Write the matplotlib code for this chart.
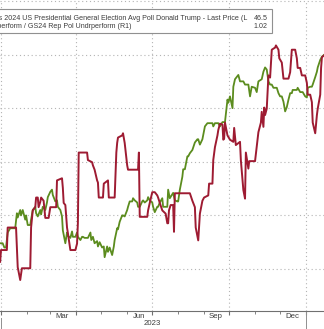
import matplotlib
matplotlib.use("Agg")
import matplotlib.pyplot as plt
import matplotlib.dates as mdates
import pandas as pd

START = pd.Timestamp("2023-01-01")

# Trump general election poll average (left axis), day offsets from Jan 1 2023
poll_days = [-1, 2, 4, 6, 8, 11, 17, 19, 20, 23, 24, 26, 29, 30, 32, 35, 36, 38, 41, 42,
             44, 47, 48, 50, 53, 55, 56, 59, 61, 62, 65, 67, 68, 71, 73, 74, 77, 79, 80, 83,
             85, 86, 89, 91, 92, 95, 97, 98, 100, 104, 107, 108, 110, 112, 115, 116, 118, 121, 123, 124,
             127, 128, 130, 133, 135, 136, 139, 140, 142, 145, 146, 148, 151, 152, 154, 157, 158, 160, 163, 164,
             166, 169, 170, 172, 175, 176, 178, 181, 182, 184, 187, 188, 190, 193, 194, 196, 199, 200, 202, 206,
             208, 211, 212, 214, 217, 218, 220, 223, 224, 226, 229, 232, 235, 236, 238, 241, 244, 247, 250, 253,
             254, 256, 260, 262, 265, 268, 271, 272, 274, 277, 278, 280, 282, 284, 286, 290, 292, 296, 298, 300,
             304, 306, 308, 312, 314, 316, 318, 320, 322, 324, 326, 330, 332, 334, 336, 338, 340, 342, 344, 346,
             348, 349, 354, 355, 358, 361, 364, 366, 367, 370, 372, 373, 376, 378, 379, 382, 384, 387]
poll_vals = [44.74, 44.74, 44.70, 44.70, 44.84, 44.88, 44.88, 45.02, 44.98, 45.05, 45.00, 45.05, 44.96, 45.00, 44.91, 44.91, 44.96, 45.05, 45.08, 45.02,
             44.99, 45.05, 45.01, 45.08, 45.05, 45.12, 45.17, 45.22, 45.24, 45.19, 45.13, 45.14, 45.08, 45.05, 44.99, 44.86, 44.74, 44.84, 44.81, 44.79,
             44.85, 44.80, 44.80, 44.84, 44.80, 44.77, 44.80, 44.80, 44.79, 44.79, 44.84, 44.77, 44.80, 44.74, 44.76, 44.71, 44.75, 44.70, 44.71, 44.61,
             44.71, 44.66, 44.70, 44.63, 44.71, 44.77, 44.88, 44.87, 44.94, 45.00, 45.00, 44.99, 45.05, 45.08, 45.13, 45.13, 45.16, 45.14, 45.12, 45.08,
             45.08, 45.13, 45.14, 45.12, 45.14, 45.17, 45.14, 45.12, 45.08, 45.03, 45.08, 45.08, 45.12, 45.16, 45.08, 45.08, 45.08, 45.24, 45.16, 45.21,
             45.14, 45.13, 45.13, 45.24, 45.36, 45.43, 45.43, 45.55, 45.55, 45.58, 45.61, 45.68, 45.71, 45.71, 45.66, 45.71, 45.83, 45.86, 45.86, 45.86,
             45.83, 45.86, 45.86, 45.83, 45.87, 45.87, 46.08, 46.05, 46.11, 46.00, 46.20, 46.27, 46.29, 46.31, 46.25, 46.25, 46.22, 46.22, 46.11, 46.20,
             46.19, 46.15, 46.25, 46.27, 46.34, 46.38, 46.36, 46.25, 46.22, 46.22, 46.19, 46.19, 46.14, 46.11, 46.11, 46.06, 45.97, 46.01, 46.08, 46.14,
             46.14, 46.17, 46.17, 46.19, 46.15, 46.15, 46.11, 46.10, 46.19, 46.20, 46.20, 46.22, 46.29, 46.34, 46.38, 46.45, 46.48, 46.5]

# GS Republican policy outperform / underperform basket ratio (right axis)
ratio_days = [-1, 0, 7, 8, 18, 19, 20, 23, 25, 35, 36, 38, 41, 42, 44, 45, 47, 48, 51, 53,
              57, 59, 66, 67, 73, 74, 75, 77, 79, 80, 83, 89, 91, 92, 93, 103, 104, 109, 110, 112,
              115, 116, 117, 122, 123, 128, 129, 136, 138, 139, 140, 145, 146, 148, 151, 152, 164, 165, 166, 175,
              176, 178, 181, 184, 187, 188, 190, 193, 197, 199, 200, 201, 203, 206, 207, 208, 226, 229, 232, 233,
              236, 238, 241, 243, 248, 249, 253, 254, 256, 259, 260, 262, 265, 266, 267, 268, 271, 274, 278, 279,
              281, 286, 287, 290, 292, 293, 296, 297, 304, 308, 311, 312, 314, 315, 316, 318, 320, 322, 324, 328,
              329, 332, 333, 336, 338, 344, 346, 348, 352, 354, 355, 358, 360, 364, 366, 367, 370, 372, 373, 376,
              378, 379, 382, 383, 384, 387]
ratio_vals = [0.827, 0.838, 0.838, 0.859, 0.859, 0.841, 0.822, 0.810, 0.821, 0.821, 0.859, 0.875, 0.878, 0.887, 0.887, 0.878, 0.883, 0.887, 0.884, 0.868,
              0.868, 0.878, 0.878, 0.903, 0.905, 0.896, 0.882, 0.880, 0.859, 0.854, 0.838, 0.838, 0.844, 0.863, 0.929, 0.929, 0.922, 0.920, 0.917, 0.913,
              0.903, 0.901, 0.887, 0.887, 0.900, 0.903, 0.887, 0.887, 0.929, 0.938, 0.943, 0.945, 0.947, 0.938, 0.917, 0.913, 0.913, 0.929, 0.869, 0.869,
              0.875, 0.882, 0.892, 0.892, 0.889, 0.887, 0.882, 0.875, 0.872, 0.863, 0.863, 0.875, 0.880, 0.880, 0.855, 0.891, 0.891, 0.884, 0.878, 0.859,
              0.847, 0.872, 0.884, 0.887, 0.889, 0.900, 0.900, 0.922, 0.934, 0.945, 0.950, 0.956, 0.955, 0.941, 0.942, 0.957, 0.945, 0.941, 0.939, 0.952,
              0.936, 0.939, 0.922, 0.894, 0.886, 0.929, 0.914, 0.921, 0.921, 0.948, 0.957, 0.967, 0.953, 0.971, 0.964, 0.970, 1.001, 0.999, 1.025, 1.027,
              1.029, 1.025, 1.017, 1.013, 0.998, 0.998, 1.004, 1.025, 1.025, 1.017, 1.008, 1.008, 1.001, 1.001, 0.994, 0.983, 0.983, 0.976, 0.957, 0.947,
              0.964, 0.970, 0.983, 1.008, 1.018, 1.02]

poll_label = "RealClearPolitics 2024 US Presidential General Election Avg Poll Donald Trump - Last Price (L"
ratio_label = "GS24 Rep Pol Outperform / GS24 Rep Pol Undrperform (R1)"
month_labels = ["Mar", "Jun", "Sep", "Dec"]
year_label = "2023"

GREEN = "#5b8c1e"
RED = "#9e1b32"
GRID = "#b4b4b4"
TEXT = "#3c3c3c"
FS = 5.6
LEGEND_FS = 5.1

plt.rcParams["font.family"] = ["Liberation Sans Narrow", "Liberation Sans", "DejaVu Sans"]

poll_dates = START + pd.to_timedelta(poll_days, unit="D")
ratio_dates = START + pd.to_timedelta(ratio_days, unit="D")

fig = plt.figure(figsize=(3.24, 3.29), dpi=100)
fig.patch.set_facecolor("white")
ax = fig.add_axes([0, 18 / 329, 1, 311 / 329])
ax2 = ax.twinx()

ax.plot(poll_dates, poll_vals, color=GREEN, lw=1.3, zorder=3)
ax2.plot(ratio_dates, ratio_vals, color=RED, lw=1.4, zorder=3)

ax.set_xlim(START - pd.Timedelta(days=1.2), START + pd.Timedelta(days=386.5))
ax.set_ylim(44.108, 47.009)
ax2.set_ylim(0.7811, 1.0714)

# quarterly dotted grid, half point horizontal grid on the left scale
ax.set_yticks([44.5, 45.0, 45.5, 46.0, 46.5, 47.0])
ax.xaxis.set_major_locator(mdates.MonthLocator(bymonth=[1, 4, 7, 10]))
ax.xaxis.set_minor_locator(mdates.MonthLocator())
ax.grid(True, which="major", color=GRID, ls=(0, (1, 2.5)), lw=0.8)
ax.set_axisbelow(True)

ax.tick_params(axis="y", left=False, labelleft=False)
ax2.tick_params(axis="y", right=False, labelright=False)
ax.tick_params(axis="x", which="major", length=3, color="#707070", labelbottom=False)
ax.tick_params(axis="x", which="minor", length=2, color="#707070")

for a in (ax, ax2):
    for side in ("top", "left", "right"):
        a.spines[side].set_visible(False)
    a.spines["bottom"].set_visible(a is ax)
ax.spines["bottom"].set_color("#707070")
ax.spines["bottom"].set_linewidth(0.8)

# month names sit mid-month under the axis
xt = ax.get_xaxis_transform()
for i, name in enumerate(month_labels):
    mid = pd.Timestamp(2023, 3 + 3 * i, 15)
    ax.text(mid, -0.017, name, transform=xt, ha="center", va="center",
            fontsize=FS, color=TEXT)
ax.text(pd.Timestamp(2023, 7, 1), -0.041, year_label, transform=xt,
        ha="center", va="center", fontsize=FS, color=TEXT)

# year separators below the axis
for d, top in ((START, -0.022), (pd.Timestamp(2024, 1, 1), 0.0)):
    ax.plot([d, d], [top, -0.06], transform=xt, color="#909090",
            lw=0.7, clip_on=False)

# legend box
box = plt.Rectangle((-0.05, 296 / 329), 0.89, 24 / 329, transform=fig.transFigure,
                    facecolor="white", edgecolor="#909090", lw=0.8, zorder=5)
fig.add_artist(box)
fig.text(247 / 324, 1 - 18 / 329, poll_label, ha="right", va="center", fontsize=LEGEND_FS,
         color=TEXT, zorder=6)
fig.text(268 / 324, 1 - 18 / 329, f"{poll_vals[-1]:.1f}", ha="right", va="center",
         fontsize=LEGEND_FS, color=TEXT, zorder=6)
fig.text(132 / 324, 1 - 27 / 329, ratio_label, ha="right", va="center", fontsize=LEGEND_FS,
         color=TEXT, zorder=6)
fig.text(268 / 324, 1 - 27 / 329, f"{ratio_vals[-1]:.2f}", ha="right", va="center",
         fontsize=LEGEND_FS, color=TEXT, zorder=6)

fig.savefig("out.png", dpi=100, facecolor="white")
